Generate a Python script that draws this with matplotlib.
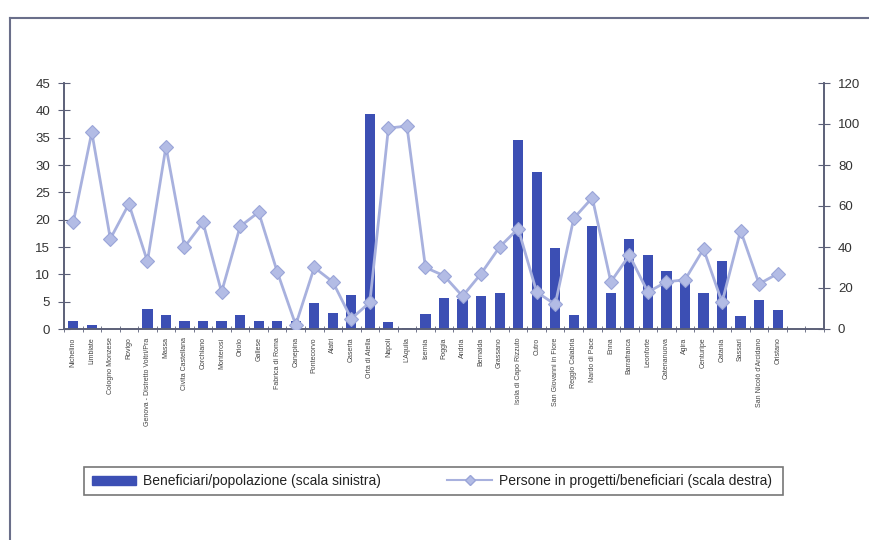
import numpy as np
import matplotlib.pyplot as plt
from matplotlib.lines import Line2D
from matplotlib.patches import Patch, Rectangle

plt.rcParams['font.family'] = ['Liberation Sans Narrow', 'Liberation Sans', 'DejaVu Sans']

# comuni
comuni = ["Nichelino", "Limbiate", "Cologno Monzese", "Rovigo", "Genova - Distretto Voltri/Pra",
          "Massa", "Civita Castellana", "Corchiano", "Monterosi", "Oriolo", "Gallese",
          "Fabrica di Roma", "Canepina", "Pontecorvo", "Alatri", "Caserta", "Orta di Atella",
          "Napoli", "L'Aquila", "Isernia", "Foggia", "Andria", "Bernalda", "Grassano",
          "Isola di Capo Rizzuto", "Cutro", "San Giovanni in Fiore", "Reggio Calabria",
          "Nardo di Pace", "Enna", "Barrafranca", "Leonforte", "Catenanuova", "Agira",
          "Centuripe", "Catania", "Sassari", "San Nicolò d'Arcidano", "Oristano"]

# beneficiari/popolazione (scala sinistra)
benef_pop = [1.5, 0.7, 0.0, 0.0, 3.7, 2.6, 1.5, 1.5, 1.5, 2.5, 1.5, 1.5, 1.5, 4.7,
             2.9, 6.2, 39.4, 1.3, 0.2, 2.7, 5.7, 5.5, 6.1, 6.5, 34.6, 28.7, 14.8,
             2.5, 18.8, 6.6, 16.5, 13.6, 10.6, 8.6, 6.6, 12.5, 2.4, 5.3, 3.5]

# persone in progetti/beneficiari (scala destra)
pers_benef = [52, 96, 44, 61, 33, 89, 40, 52, 18, 50, 57, 28, 2, 30,
              23, 5, 13, 98, 99, 30, 26, 16, 27, 40, 49, 18, 12,
              54, 64, 23, 36, 18, 23, 24, 39, 13, 48, 22, 27]

bar_col = '#3c4fb4'
line_col = '#a8b1de'
axis_col = '#5c6078'

fig = plt.figure(figsize=(8.69, 5.40), dpi=100)
ax = fig.add_axes([64/869, 1-329/540, 760/869, 246/540])
ax2 = ax.twinx()

x = np.arange(len(comuni))
ax.bar(x, benef_pop, width=0.55, color=bar_col, zorder=2)
ax2.plot(x, pers_benef, color=line_col, lw=2, marker='D', ms=7,
         mfc='#b3bce5', mec='#9aa5d8', mew=0.8, zorder=3)

ax.set_xlim(-0.5, 40.5)
ax.set_ylim(0, 45)
ax2.set_ylim(0, 120)
ax.set_yticks(np.arange(0, 46, 5))
ax2.set_yticks(np.arange(0, 121, 20))

ax.set_xticks(np.arange(-0.5, 41, 1), minor=True)
ax.set_xticks(x)
ax.set_xticklabels(comuni, rotation=90, fontsize=5, color='#444444')
ax.tick_params(axis='x', which='major', length=0, pad=6)
ax.tick_params(axis='x', which='minor', length=5, direction='inout', color=axis_col)
ax.tick_params(axis='y', length=8, direction='inout', color=axis_col, labelsize=9.5,
               labelcolor='#333333', pad=6)
ax2.tick_params(axis='y', length=8, direction='inout', color=axis_col, labelsize=9.5,
                labelcolor='#333333', pad=6)

for a in (ax, ax2):
    a.spines['top'].set_visible(False)
    for s in ('left', 'right', 'bottom'):
        a.spines[s].set_color(axis_col)
        a.spines[s].set_linewidth(1.2)
    a.patch.set_visible(False)
ax.set_zorder(ax2.get_zorder() - 1)
ax2.patch.set_visible(False)

# cornice della pagina
fig.add_artist(Line2D([10/869, 10/869], [0, 1-18/540], color='#6a6f8a', lw=1.5))
fig.add_artist(Line2D([10/869, 1], [1-18/540, 1-18/540], color='#6a6f8a', lw=1.5))

# legenda
fig.add_artist(Rectangle((84/869, 1-495/540), 699/869, 28/540, transform=fig.transFigure,
                         fill=False, edgecolor='#777777', lw=1.2))
h1 = Patch(facecolor=bar_col, edgecolor=bar_col)
h2 = Line2D([], [], color=line_col, lw=1.5, marker='D', ms=5, mfc='#b3bce5', mec='#9aa5d8')
fig.legend([h1, h2], ["Beneficiari/popolazione (scala sinistra)",
                      "Persone in progetti/beneficiari (scala destra)"],
           loc='center left', bbox_to_anchor=(79/869, 1-481/540), ncol=2, frameon=False,
           fontsize=10, handlelength=3.2, handletextpad=0.5, columnspacing=4.8,
           handleheight=0.6, labelcolor='#222222')

fig.savefig('out.png', dpi=100)
